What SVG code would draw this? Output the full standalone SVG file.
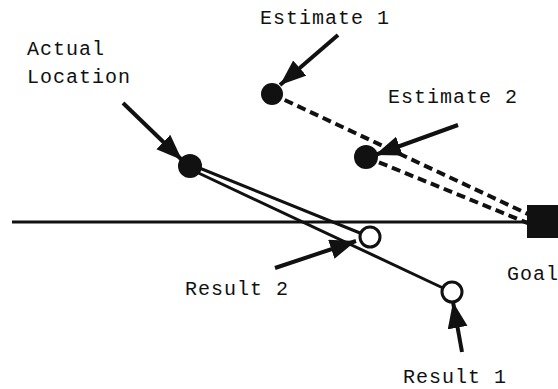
<svg xmlns="http://www.w3.org/2000/svg" width="558" height="389" viewBox="0 0 558 389">
<style>
.t{font-family:"Liberation Mono","Courier New",monospace;font-size:20px;letter-spacing:1px;fill:#111}
.arr{stroke:#111;stroke-width:4;fill:none;marker-end:url(#ah)}
.ln{stroke:#111;stroke-width:3;fill:none}
.dash{stroke:#111;stroke-width:4;stroke-dasharray:9 5;fill:none}
.dot{fill:#111}
.open{fill:#fff;stroke:#111;stroke-width:3}
</style>
<defs>
<marker id="ah" markerUnits="userSpaceOnUse" markerWidth="28" markerHeight="22" refX="26" refY="10" orient="auto">
<path d="M0,0 L26,10 L0,20 Z" fill="#111"/>
</marker>
</defs>
<rect width="558" height="389" fill="#fff"/>
<g id="connectors">
<line class="ln" x1="12" y1="222" x2="530" y2="222" stroke-width="2.5"/>
<line class="dash" x1="272" y1="94" x2="530" y2="215"/>
<line class="dash" x1="366" y1="157" x2="530" y2="224"/>
<line class="ln" x1="192" y1="165" x2="360" y2="233"/>
<line class="ln" x1="190" y1="169" x2="443" y2="288"/>
<line class="arr" x1="123" y1="103" x2="182" y2="160"/>
<line class="arr" x1="338" y1="35" x2="280" y2="85"/>
<line class="arr" x1="458" y1="125" x2="375" y2="155"/>
<line class="arr" x1="275" y1="268" x2="356" y2="241"/>
<line class="arr" x1="462" y1="352" x2="453" y2="302"/>
</g>
<g id="actual"><circle class="dot" cx="190" cy="166" r="12"/><text class="t" x="27" y="55">Actual</text><text class="t" x="27" y="83">Location</text></g>
<g id="estimate1"><circle class="dot" cx="272" cy="94" r="11"/><text class="t" x="260" y="24">Estimate 1</text></g>
<g id="estimate2"><circle class="dot" cx="366" cy="157" r="12"/><text class="t" x="388" y="103">Estimate 2</text></g>
<g id="goal"><rect x="527" y="205" width="35" height="33" fill="#111"/><text class="t" x="507" y="280">Goal</text></g>
<g id="result2"><circle class="open" cx="370" cy="237" r="10"/><text class="t" x="185" y="295">Result 2</text></g>
<g id="result1"><circle class="open" cx="452" cy="292" r="10"/><text class="t" x="403" y="383">Result 1</text></g>
</svg>
